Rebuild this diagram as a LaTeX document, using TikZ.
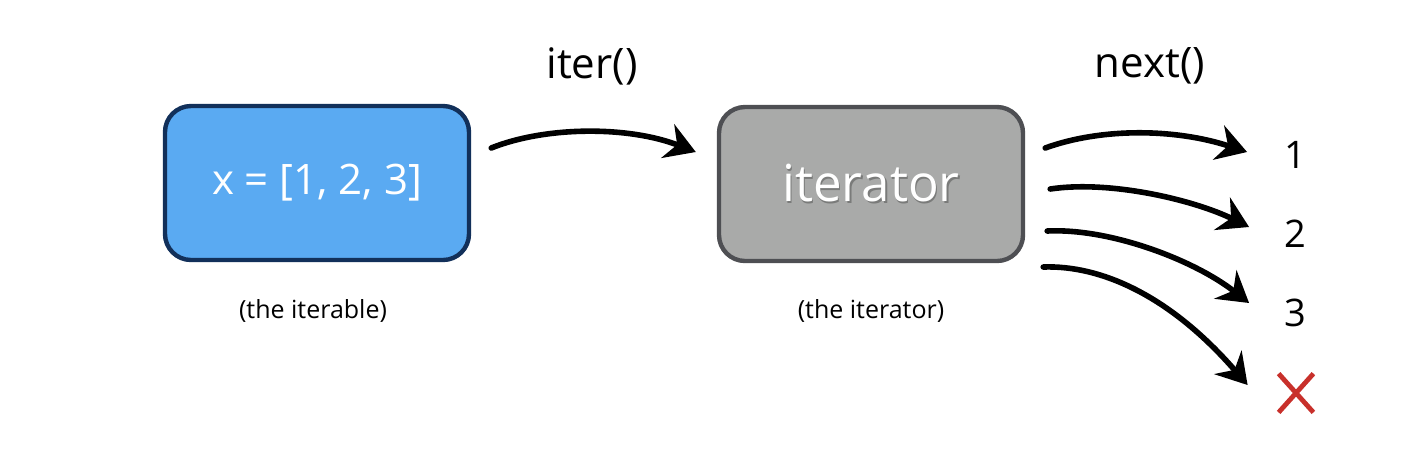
\documentclass[tikz,border=0pt]{standalone}
\usepackage{fontspec}
\setmainfont{Open Sans}
\usetikzlibrary{arrows.meta,calc}
\definecolor{boxblue}{HTML}{5AAAF2}
\definecolor{blueedge}{HTML}{12305A}
\definecolor{boxgray}{HTML}{A9AAA9}
\definecolor{grayedge}{HTML}{4E4F53}
\definecolor{xred}{HTML}{C8302B}
\definecolor{txtshadow}{HTML}{7A7B7A}
\newcommand{\shadowed}[1]{\makebox[0pt][l]{\raisebox{-1.2pt}{\hspace{0.8pt}\textcolor{txtshadow}{#1}}}#1}
\tikzset{
  bigbox/.style={rounded corners=13pt, line width=2.2pt, minimum width=152pt, minimum height=77pt, inner sep=0pt, text=white},
  caption/.style={font=\fontsize{12.5}{14}\selectfont, text=black},
  title/.style={font=\fontsize{21}{24}\selectfont, text=black},
  numlabel/.style={font=\fontsize{19}{22}\selectfont, text=black},
  brush/.style={line width=2.8pt, line cap=round, -{Stealth[length=15pt,width=18pt,inset=5pt]}},
}
\begin{document}
\begin{tikzpicture}[x=0.5pt,y=-0.5pt]
\useasboundingbox (0,0) rectangle (1416,452);
\node[bigbox, fill=boxblue, draw=blueedge, font=\fontsize{21}{24}\selectfont] (iterable) at (317,183) {x = [1, 2, 3]};
\node[bigbox, fill=boxgray, draw=grayedge, font=\fontsize{25.5}{28}\selectfont] (iterator) at (871,184) {\shadowed{iterator}};
\node[caption] (cap1) at (313,311) {(the iterable)};
\node[caption] (cap2) at (871,311) {(the iterator)};
\node[title] (titer) at (592,66) {iter()};
\node[title] (tnext) at (1150,66) {next()};
\node[numlabel] (n1) at (1295,155) {1};
\node[numlabel] (n2) at (1295,234) {2};
\node[numlabel] (n3) at (1295,313) {3};
\node[minimum width=17pt, minimum height=19pt, inner sep=0pt] (nx) at (1296,393) {};
\draw[xred, line width=2.4pt] (nx.north west) -- (nx.south east);
\draw[xred, line width=2.4pt] (nx.south west) -- (nx.north east);
\draw[brush] ($(iterable.east)+(20,-35)$) .. controls +(55,-22) and +(-67,-26) .. ($(iterator.west)+(-21,-32)$);
\draw[brush] ($(iterator.east)+(20,-36)$) .. controls +(55,-20) and +(-73,-24) .. ($(n1.west)+(-30,-3)$);
\draw[brush] ($(iterator.east)+(25,5)$) .. controls +(60,-9) and +(-55,-27) .. ($(n2.west)+(-28,-7)$);
\draw[brush] ($(iterator.east)+(22,47)$) .. controls +(63,-3) and +(-55,-43) .. ($(n3.west)+(-28,-10)$);
\draw[brush] ($(iterator.east)+(18,83)$) .. controls +(57,-2) and +(-78,-90) .. ($(nx.west)+(-31,-8)$);
\end{tikzpicture}
\end{document}
